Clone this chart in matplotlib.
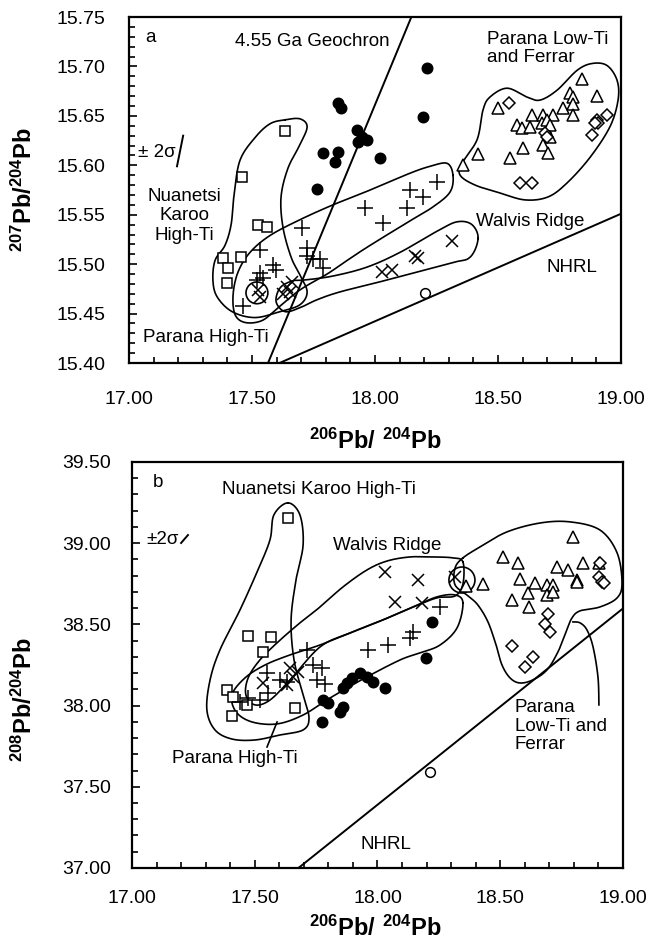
import numpy as np
import matplotlib
matplotlib.use('Agg')
import matplotlib.pyplot as plt
from matplotlib.patches import Ellipse
from matplotlib.ticker import MultipleLocator, FormatStrFormatter

plt.rcParams['font.family'] = ['Liberation Sans', 'DejaVu Sans']
plt.rcParams['mathtext.fontset'] = 'custom'
plt.rcParams['mathtext.rm'] = 'Liberation Sans'
plt.rcParams['mathtext.bf'] = 'Liberation Sans:bold'

# ---------------- panel a: 207Pb/204Pb vs 206Pb/204Pb ----------------
sq_a_x = [17.634, 17.459, 17.524, 17.561, 17.382, 17.455, 17.402, 17.398]
sq_a_y = [15.635, 15.588, 15.540, 15.538, 15.506, 15.507, 15.496, 15.481]

dot_a_x = [17.850, 17.862, 17.927, 17.947, 17.967, 17.931, 18.020, 17.789,
           17.850, 17.837, 17.764, 18.211, 18.195]
dot_a_y = [15.663, 15.658, 15.636, 15.629, 15.626, 15.624, 15.607, 15.612,
           15.613, 15.603, 15.576, 15.698, 15.649]

circ_a_x = [18.203]
circ_a_y = [15.471]

plus_a_x = [18.252, 18.142, 18.195, 18.130, 17.959, 18.033, 17.703, 17.533,
            17.724, 17.724, 17.748, 17.776, 17.789, 17.585, 17.598, 17.533,
            17.520, 17.545, 17.463]
plus_a_y = [15.583, 15.575, 15.568, 15.557, 15.557, 15.542, 15.537, 15.514,
            15.516, 15.508, 15.505, 15.505, 15.496, 15.499, 15.494, 15.491,
            15.484, 15.486, 15.458]

x_a_x = [18.313, 18.163, 18.175, 18.069, 18.028, 17.642, 17.654, 17.626,
         17.524, 17.533, 17.663]
x_a_y = [15.523, 15.508, 15.506, 15.494, 15.492, 15.477, 15.472, 15.470,
         15.474, 15.467, 15.482]

tri_a_x = [18.841, 18.793, 18.805, 18.902, 18.500, 18.638, 18.683, 18.724,
           18.764, 18.805, 18.805, 18.577, 18.598, 18.630, 18.679, 18.699,
           18.711, 18.711, 18.683, 18.602, 18.703, 18.549, 18.419, 18.358]
tri_a_y = [15.687, 15.673, 15.669, 15.670, 15.658, 15.651, 15.651, 15.651,
           15.658, 15.662, 15.651, 15.641, 15.638, 15.639, 15.643, 15.646,
           15.641, 15.629, 15.621, 15.618, 15.612, 15.607, 15.611, 15.600]

dia_a_x = [18.545, 18.943, 18.902, 18.907, 18.894, 18.882, 18.691, 18.699,
           18.589, 18.638]
dia_a_y = [15.663, 15.651, 15.646, 15.643, 15.643, 15.631, 15.633, 15.629,
           15.582, 15.582]

geochron_x = [17.565, 18.146]
geochron_y = [15.400, 15.749]
nhrl_a_x = [17.602, 19.000]
nhrl_a_y = [15.399, 15.551]

# field outlines (vertices, smoothed)
nuan_a_x = [17.634, 17.695, 17.724, 17.695, 17.646, 17.618, 17.626, 17.659,
            17.695, 17.724, 17.695, 17.614, 17.512, 17.419, 17.358, 17.341,
            17.350, 17.390, 17.415, 17.427, 17.451, 17.512, 17.573]
nuan_a_y = [15.646, 15.647, 15.639, 15.621, 15.597, 15.568, 15.537, 15.507,
            15.489, 15.472, 15.459, 15.452, 15.446, 15.452, 15.467, 15.484,
            15.504, 15.519, 15.540, 15.570, 15.605, 15.628, 15.642]

phti_a_x = [18.317, 18.293, 18.224, 18.142, 17.980, 17.829, 17.695, 17.573,
            17.492, 17.443, 17.423, 17.431, 17.472, 17.541, 17.606, 17.695,
            17.805, 17.870, 17.967, 18.130, 18.236, 18.305]
phti_a_y = [15.590, 15.602, 15.599, 15.592, 15.575, 15.560, 15.545, 15.529,
            15.512, 15.492, 15.469, 15.449, 15.441, 15.443, 15.456, 15.474,
            15.490, 15.501, 15.517, 15.542, 15.558, 15.573]

walv_a_x = [18.419, 18.394, 18.337, 18.264, 18.102, 17.967, 17.829, 17.715,
            17.663, 17.614, 17.598, 17.634, 17.695, 17.764, 17.858, 18.033,
            18.305, 18.386]
walv_a_y = [15.526, 15.540, 15.543, 15.535, 15.512, 15.497, 15.488, 15.484,
            15.483, 15.476, 15.462, 15.452, 15.456, 15.464, 15.472, 15.483,
            15.501, 15.507]

plti_a_x = [18.354, 18.415, 18.439, 18.467, 18.537, 18.618, 18.671, 18.740,
            18.821, 18.882, 18.943, 18.984, 18.988, 18.955, 18.874, 18.780,
            18.703, 18.610, 18.508, 18.407, 18.346]
plti_a_y = [15.602, 15.626, 15.656, 15.669, 15.678, 15.669, 15.666, 15.676,
            15.696, 15.703, 15.701, 15.686, 15.666, 15.639, 15.608, 15.582,
            15.568, 15.565, 15.572, 15.580, 15.590]

small_a = (17.520, 15.471, 0.089, 0.022)  # centre x, centre y, width, height

# ---------------- panel b: 208Pb/204Pb vs 206Pb/204Pb ----------------
sq_b_x = [17.635, 17.473, 17.566, 17.534, 17.387, 17.411, 17.468, 17.407, 17.664]
sq_b_y = [39.155, 38.429, 38.422, 38.330, 38.096, 38.053, 38.004, 37.936, 37.985]

dot_b_x = [17.778, 17.798, 17.774, 17.859, 17.876, 17.847, 17.859, 17.896,
           17.929, 17.957, 17.982, 18.031, 18.222, 18.198]
dot_b_y = [38.034, 38.016, 37.899, 38.108, 38.139, 37.961, 37.991, 38.170,
           38.201, 38.176, 38.145, 38.108, 38.515, 38.293]

circ_b_x = [18.214]
circ_b_y = [37.591]

plus_b_x = [18.255, 18.145, 18.132, 18.043, 17.961, 17.713, 17.737, 17.774,
            17.754, 17.786, 17.550, 17.554, 17.521, 17.473, 17.440, 17.603,
            17.631]
plus_b_y = [38.607, 38.453, 38.416, 38.373, 38.342, 38.342, 38.250, 38.232,
            38.158, 38.133, 38.201, 38.078, 38.034, 38.047, 38.022, 38.158,
            38.145]

x_b_x = [18.031, 18.165, 18.071, 18.181, 18.316, 17.644, 17.656, 17.631,
         17.676, 17.534]
x_b_y = [38.823, 38.773, 38.638, 38.632, 38.792, 38.232, 38.176, 38.127,
         38.207, 38.139]

tri_b_x = [18.796, 18.511, 18.572, 18.731, 18.776, 18.837, 18.902, 18.580,
           18.642, 18.690, 18.715, 18.613, 18.690, 18.715, 18.548, 18.617,
           18.813, 18.813, 18.360, 18.430]
tri_b_y = [39.038, 38.915, 38.878, 38.853, 38.835, 38.878, 38.878, 38.780,
           38.755, 38.743, 38.743, 38.693, 38.681, 38.700, 38.650, 38.607,
           38.773, 38.761, 38.736, 38.749]

dia_b_x = [18.906, 18.902, 18.914, 18.923, 18.695, 18.682, 18.703, 18.548,
           18.601, 18.633]
dia_b_y = [38.878, 38.792, 38.761, 38.755, 38.564, 38.502, 38.453, 38.367,
           38.238, 38.299]

nhrl_b_x = [17.678, 19.000]
nhrl_b_y = [37.000, 38.598]

nuan_b_x = [17.635, 17.684, 17.697, 17.668, 17.648, 17.660, 17.697, 17.721,
            17.697, 17.603, 17.501, 17.407, 17.338, 17.305, 17.318, 17.358,
            17.440, 17.513, 17.562, 17.578]
nuan_b_y = [39.248, 39.174, 38.989, 38.773, 38.527, 38.281, 38.065, 37.924,
            37.850, 37.819, 37.788, 37.794, 37.850, 37.973, 38.158, 38.342,
            38.589, 38.835, 39.020, 39.174]

walv_b_x = [18.348, 18.308, 18.226, 18.132, 18.039, 17.957, 17.859, 17.766,
            17.684, 17.595, 17.521, 17.473, 17.464, 17.501, 17.562, 17.644,
            17.766, 17.888, 18.022, 18.145, 18.242, 18.316, 18.348]
walv_b_y = [38.884, 38.909, 38.915, 38.915, 38.890, 38.835, 38.730, 38.607,
            38.509, 38.392, 38.281, 38.170, 38.065, 38.004, 38.034, 38.158,
            38.361, 38.447, 38.527, 38.607, 38.663, 38.675, 38.749]

phti_b_x = [18.348, 18.316, 18.242, 18.145, 18.022, 17.888, 17.766, 17.644,
            17.542, 17.460, 17.407, 17.424, 17.489, 17.591, 17.697, 17.807,
            17.949, 18.092, 18.173, 18.255, 18.324]
phti_b_y = [38.632, 38.681, 38.669, 38.607, 38.527, 38.447, 38.373, 38.312,
            38.250, 38.170, 38.065, 37.961, 37.899, 37.887, 37.942, 38.047,
            38.170, 38.281, 38.324, 38.373, 38.478]

plti_b_x = [18.348, 18.418, 18.527, 18.662, 18.784, 18.906, 18.976, 18.996,
            18.976, 18.906, 18.825, 18.792, 18.768, 18.735, 18.690, 18.633,
            18.580, 18.540, 18.507, 18.483, 18.450, 18.409, 18.369, 18.316,
            18.316]
plti_b_y = [38.909, 38.977, 39.069, 39.124, 39.131, 39.081, 38.940, 38.755,
            38.663, 38.607, 38.583, 38.539, 38.453, 38.330, 38.219, 38.158,
            38.139, 38.170, 38.250, 38.373, 38.515, 38.619, 38.675, 38.743,
            38.847]

small_b = (18.344, 38.773, 0.106, 0.160)

lead_phti_b_x = [17.550, 17.591]
lead_phti_b_y = [37.745, 37.899]
lead_plti_b_x = [18.902, 18.898, 18.878, 18.853, 18.825, 18.796]
lead_plti_b_y = [38.004, 38.176, 38.361, 38.466, 38.509, 38.515]


def catmull(xs, ys, closed=True, n=24):
    p = np.column_stack([xs, ys]).astype(float)
    if not closed:
        p = np.vstack([p[0], p, p[-1]])
    m = len(p)
    rng = range(m) if closed else range(1, m - 2)
    segs = []
    t = np.linspace(0, 1, n, endpoint=False)[:, None]
    for i in rng:
        p0, p1, p2, p3 = p[i - 1], p[i], p[(i + 1) % m], p[(i + 2) % m]
        segs.append(0.5 * (2 * p1 + (-p0 + p2) * t
                           + (2 * p0 - 5 * p1 + 4 * p2 - p3) * t ** 2
                           + (-p0 + 3 * p1 - 3 * p2 + p3) * t ** 3))
    end = segs[0][:1] if closed else p[-2][None, :]
    out = np.vstack(segs + [end])
    return out[:, 0], out[:, 1]


def symbols(ax, d):
    kw = dict(ls='none', color='k', mew=1.1)
    ax.plot(d['sq'][0], d['sq'][1], marker='s', ms=7, mfc='white', **kw)
    ax.plot(d['dot'][0], d['dot'][1], marker='o', ms=7.5, mfc='k', **kw)
    ax.plot(d['circ'][0], d['circ'][1], marker='o', ms=7, mfc='white', **kw)
    ax.plot(d['plus'][0], d['plus'][1], marker='+', ms=11, **kw)
    ax.plot(d['x'][0], d['x'][1], marker='x', ms=8.5, **kw)
    ax.plot(d['tri'][0], d['tri'][1], marker='^', ms=9, mfc='white', **kw)
    ax.plot(d['dia'][0], d['dia'][1], marker='D', ms=6.5, mfc='white', **kw)


def style(ax, ylo, yhi, ymaj, ymin, xpad, ypad):
    ax.set_xlim(17.0, 19.0)
    ax.set_ylim(ylo, yhi)
    ax.xaxis.set_major_locator(MultipleLocator(0.5))
    ax.xaxis.set_minor_locator(MultipleLocator(0.1))
    ax.yaxis.set_major_locator(MultipleLocator(ymaj))
    ax.yaxis.set_minor_locator(MultipleLocator(ymin))
    ax.xaxis.set_major_formatter(FormatStrFormatter('%.2f'))
    ax.yaxis.set_major_formatter(FormatStrFormatter('%.2f'))
    ax.tick_params(which='both', direction='in', top=False, right=False,
                   width=1.2, labelsize=14)
    ax.tick_params(which='major', length=6)
    ax.tick_params(which='minor', length=4)
    ax.tick_params(axis='x', pad=xpad)
    ax.tick_params(axis='y', pad=ypad)
    for s in ax.spines.values():
        s.set_linewidth(1.6)


fig = plt.figure(figsize=(6.61, 9.41), dpi=100)
lw = 1.2
fs = 13.5

# ----- panel a -----
ax1 = fig.add_axes([0.1952, 0.6142, 0.7443, 0.3677])
for fx, fy in [(nuan_a_x, nuan_a_y), (phti_a_x, phti_a_y),
               (walv_a_x, walv_a_y), (plti_a_x, plti_a_y)]:
    cx, cy = catmull(fx, fy)
    ax1.plot(cx, cy, color='k', lw=lw)
ax1.add_patch(Ellipse(small_a[:2], small_a[2], small_a[3], fill=False,
                      lw=lw, color='k'))
ax1.plot(geochron_x, geochron_y, color='k', lw=1.4)
ax1.plot(nhrl_a_x, nhrl_a_y, color='k', lw=1.4)
symbols(ax1, dict(sq=(sq_a_x, sq_a_y), dot=(dot_a_x, dot_a_y),
                  circ=(circ_a_x, circ_a_y), plus=(plus_a_x, plus_a_y),
                  x=(x_a_x, x_a_y), tri=(tri_a_x, tri_a_y),
                  dia=(dia_a_x, dia_a_y)))
style(ax1, 15.40, 15.75, 0.05, 0.01, 20, 17)

ax1.text(17.089, 15.729, 'a', fontsize=fs, ha='center', va='center')
ax1.text(17.431, 15.725, '4.55 Ga Geochron', fontsize=fs, va='center')
ax1.text(18.455, 15.718, 'Parana Low-Ti\nand Ferrar', fontsize=fs,
         va='center', linespacing=1.05)
ax1.text(17.037, 15.613, '\u00b1 2\u03c3', fontsize=fs, va='center')
ax1.plot([17.195, 17.220], [15.599, 15.630], color='k', lw=1.4)
ax1.text(17.224, 15.549, 'Nuanetsi\nKaroo\nHigh-Ti', fontsize=fs,
         ha='center', va='center', linespacing=1.2)
ax1.text(18.630, 15.543, 'Walvis Ridge', fontsize=fs, ha='center', va='center')
ax1.text(18.801, 15.497, 'NHRL', fontsize=fs, ha='center', va='center')
ax1.text(17.057, 15.426, 'Parana High-Ti', fontsize=fs, va='center')

# ----- panel b -----
ax2 = fig.add_axes([0.1997, 0.0776, 0.7428, 0.4315])
for fx, fy in [(nuan_b_x, nuan_b_y), (walv_b_x, walv_b_y),
               (phti_b_x, phti_b_y), (plti_b_x, plti_b_y)]:
    cx, cy = catmull(fx, fy)
    ax2.plot(cx, cy, color='k', lw=lw)
ax2.add_patch(Ellipse(small_b[:2], small_b[2], small_b[3], fill=False,
                      lw=lw, color='k'))
ax2.plot(nhrl_b_x, nhrl_b_y, color='k', lw=1.4)
cx, cy = catmull(lead_plti_b_x, lead_plti_b_y, closed=False)
ax2.plot(cx, cy, color='k', lw=lw)
ax2.plot(lead_phti_b_x, lead_phti_b_y, color='k', lw=lw)
symbols(ax2, dict(sq=(sq_b_x, sq_b_y), dot=(dot_b_x, dot_b_y),
                  circ=(circ_b_x, circ_b_y), plus=(plus_b_x, plus_b_y),
                  x=(x_b_x, x_b_y), tri=(tri_b_x, tri_b_y),
                  dia=(dia_b_x, dia_b_y)))
style(ax2, 37.0, 39.5, 0.5, 0.1, 16, 15)

ax2.text(17.106, 39.371, 'b', fontsize=fs, ha='center', va='center')
ax2.text(17.367, 39.328, 'Nuanetsi Karoo High-Ti', fontsize=fs, va='center')
ax2.text(17.057, 39.020, '\u00b12\u03c3', fontsize=fs, va='center')
ax2.plot([17.200, 17.228], [39.001, 39.050], color='k', lw=1.4)
ax2.text(17.819, 38.983, 'Walvis Ridge', fontsize=fs, va='center')
ax2.text(17.163, 37.677, 'Parana High-Ti', fontsize=fs, va='center')
ax2.text(18.560, 37.874, 'Parana\nLow-Ti and\nFerrar', fontsize=fs,
         va='center', linespacing=1.15)
ax2.text(17.929, 37.142, 'NHRL', fontsize=fs, va='center')

# axis titles
xl = r'$\mathbf{^{206}Pb/\ ^{204}Pb}$'
fig.text(375 / 661, 1 - 441 / 941, xl, fontsize=17, ha='center', va='center')
fig.text(375 / 661, 1 - 928 / 941, xl, fontsize=17, ha='center', va='center')
fig.text(24 / 661, 1 - 190 / 941, r'$\mathbf{^{207}Pb/^{204}Pb}$', fontsize=17,
         rotation=90, ha='center', va='center')
fig.text(24 / 661, 1 - 700 / 941, r'$\mathbf{^{208}Pb/^{204}Pb}$', fontsize=17,
         rotation=90, ha='center', va='center')

fig.savefig('out.png', dpi=100)
